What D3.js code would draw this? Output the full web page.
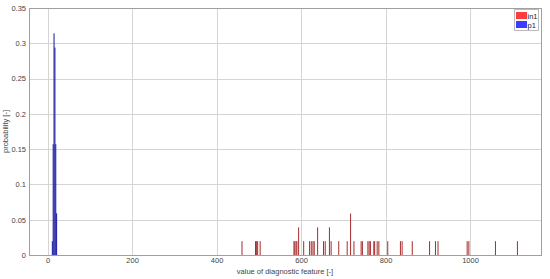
<!DOCTYPE html>
<html>
<head>
<meta charset="utf-8">
<script src="https://cdn.jsdelivr.net/npm/d3@7"></script>
<style>
body{margin:0;background:#fff;}
text{font-family:"Liberation Sans",Arial,sans-serif;}
</style>
</head>
<body>
<script>
// histogram bins: left edge of bin (value) and probability
var p1Bins = [10,12,14,16,18,20];
var p1Prob = [0.0196,0.157,0.314,0.294,0.157,0.059];

var in1Bins = [459,491,493,496,502,582,584,587,589,593,605,619,623,627,630,638,652,656,666,670,688,708,716,724,741,744,757,760,763,771,773,779,783,804,834,838,862,903,917,923,992,996,1059,1111];
var in1Prob = [0.0196,0.0196,0.0196,0.0196,0.0196,0.0196,0.0196,0.0196,0.0196,0.0392,0.0196,0.0196,0.0196,0.0196,0.0196,0.0392,0.0196,0.0196,0.0392,0.0196,0.0196,0.0196,0.0588,0.0196,0.0196,0.0196,0.0196,0.0196,0.0196,0.0196,0.0196,0.0196,0.0196,0.0196,0.0196,0.0196,0.0196,0.0196,0.0196,0.0196,0.0196,0.0196,0.0196,0.0196];

var xTicks = [0,200,400,600,800,1000];
var yTicks = [0,0.05,0.1,0.15,0.2,0.25,0.3,0.35];
var legendNames = ["in1","p1"];

var W = 550, H = 279;
var mL = 29, mR = 541, mT = 8, mB = 255;

var svg = d3.select("body").append("svg").attr("width",W).attr("height",H);

var x = d3.scaleLinear().domain([-44,1168]).range([mL,mR]);
var y = d3.scaleLinear().domain([0,0.35]).range([mB,mT]);

// grid
svg.append("g").selectAll("line.gx").data(xTicks).enter().append("line")
    .attr("x1",function(d){return Math.round(x(d))+0.5;}).attr("x2",function(d){return Math.round(x(d))+0.5;})
    .attr("y1",mT).attr("y2",mB)
    .attr("stroke","#d4d4d4").attr("stroke-width",1);
svg.append("g").selectAll("line.gy").data(yTicks).enter().append("line")
    .attr("x1",mL).attr("x2",mR)
    .attr("y1",function(d){return Math.round(y(d))+0.5;}).attr("y2",function(d){return Math.round(y(d))+0.5;})
    .attr("stroke","#d4d4d4").attr("stroke-width",1);

var bw = 2.4; // bin width in data units

svg.append("g").selectAll("rect.in1").data(in1Bins).enter().append("rect")
    .attr("x",function(d){return x(d);})
    .attr("width",function(d){return x(d+bw)-x(d);})
    .attr("y",function(d,i){return y(in1Prob[i]);})
    .attr("height",function(d,i){return mB-y(in1Prob[i]);})
    .attr("fill","#a83030");

svg.append("g").selectAll("rect.p1").data(p1Bins).enter().append("rect")
    .attr("x",function(d){return x(d);})
    .attr("width",function(d){return x(d+2.6)-x(d);})
    .attr("y",function(d,i){return y(p1Prob[i]);})
    .attr("height",function(d,i){return mB-y(p1Prob[i]);})
    .attr("fill","#2626a6");

// frame
svg.append("rect").attr("x",mL+0.5).attr("y",mT+0.5)
    .attr("width",mR-mL).attr("height",mB-mT)
    .attr("fill","none").attr("stroke","#a0a0a0");

// axes labels
var xAxis = d3.axisBottom(x).tickValues(xTicks).tickSize(0).tickPadding(3).tickFormat(d3.format("d"));
var gx = svg.append("g").attr("transform","translate(0,"+mB+")").call(xAxis);
gx.select(".domain").remove();
gx.selectAll("text").attr("font-size","7.5px").attr("fill","#444").style("font-family","Liberation Sans, Arial, sans-serif");

var yAxis = d3.axisLeft(y).tickValues(yTicks).tickSize(0).tickPadding(3)
    .tickFormat(function(d){return d3.format("~g")(d);});
var gy = svg.append("g").attr("transform","translate("+mL+",0)").call(yAxis);
gy.select(".domain").remove();
gy.selectAll("text").attr("font-size","7.5px").attr("fill","#444").style("font-family","Liberation Sans, Arial, sans-serif");

svg.append("text").attr("x",285).attr("y",274).attr("text-anchor","middle")
    .attr("font-size","7.5px").attr("fill","#444").text("value of diagnostic feature [-]");
svg.append("text").attr("transform","translate(8,"+((mT+mB)/2)+") rotate(-90)")
    .attr("text-anchor","middle").attr("font-size","7.5px").attr("fill","#444").text("probability [-]");

// legend
var lg = svg.append("g").attr("transform","translate(514,9)");
lg.append("rect").attr("x",0.5).attr("y",0.5).attr("width",24).attr("height",21)
    .attr("fill","#fff").attr("stroke","#bbb");
var legendColors = ["#ff3c3c","#3c3cff"];
legendNames.forEach(function(n,i){
    lg.append("rect").attr("x",2).attr("y",3+i*9).attr("width",11).attr("height",7).attr("fill",legendColors[i]);
    lg.append("text").attr("x",13.5).attr("y",9.5+i*9).attr("font-size","7.5px").attr("fill","#222").text(n);
});
</script>
</body>
</html>
